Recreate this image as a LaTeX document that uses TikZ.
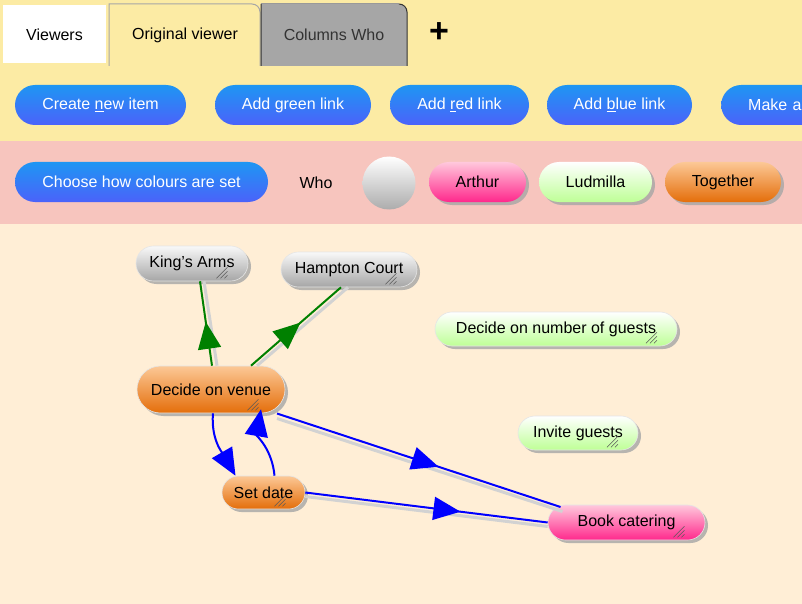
\documentclass[tikz,border=0pt]{standalone}
\usepackage{fontspec}
\setmainfont{Liberation Sans}
\usetikzlibrary{shapes.misc,shadows,decorations.markings,arrows.meta}
\definecolor{ybg}{HTML}{FCEBA4}
\definecolor{pbg}{HTML}{F7C5BE}
\definecolor{cbg}{HTML}{FFEED6}
\definecolor{lnk}{HTML}{0000FF}
\definecolor{grn}{HTML}{008000}
\tikzset{
 x=1pt,y=-1pt,
 btn/.style={rounded rectangle,minimum height=40pt,inner xsep=0pt,top color={rgb,255:red,30;green,150;blue,243},bottom color={rgb,255:red,75;green,98;blue,250},draw=none,text=white,font=\fontsize{16}{19}\selectfont},
 item/.style={rounded rectangle,draw=white!80!gray,line width=0.6pt,font=\fontsize{16}{19}\selectfont,inner xsep=0pt,drop shadow={shadow xshift=3pt,shadow yshift=-3pt,fill=gray!70,opacity=0.8}},
 gry/.style={item,top color=white!95!gray,bottom color=gray!70},
 org/.style={item,top color={rgb,255:red,252;green,200;blue,150},bottom color={rgb,255:red,228;green,110;blue,10}},
 lgr/.style={item,top color=white,bottom color={rgb,255:red,190;green,255;blue,150}},
 pnk/.style={item,top color={rgb,255:red,255;green,200;blue,220},bottom color={rgb,255:red,255;green,40;blue,140}},
 shd/.style={draw=gray!35,line width=3pt},
 midarr/.style={decoration={markings,mark=at position #1 with {\arrow{Triangle[length=27pt,width=23pt]}}},postaction={decorate}},
 bl/.style={draw=lnk,line width=2pt},
 gl/.style={draw=grn,line width=2pt},
}
\newcommand{\hatchmark}[1]{\foreach \d in {6,10,14}{\draw[gray!70!black,line width=0.6pt] ([xshift=-\d pt,yshift=3pt]#1.south east) -- ([xshift=-3pt,yshift=\d pt]#1.south east);}}
\begin{document}
\begin{tikzpicture}
\useasboundingbox (0,0) rectangle (802,604);
\fill[ybg] (0,0) rectangle (802,141);
\fill[pbg] (0,141) rectangle (802,224);
\fill[cbg] (0,224) rectangle (802,604);
% tabs
\fill[white] (3,5) rectangle (106,63);
\node[font=\fontsize{16}{19}\selectfont] (tv) at (54.5,35) {Viewers};
\draw[gray!70,line width=1pt,fill=ybg] (109,66) -- (109,4) -- (252,4) to[out=0,in=90] (260,12) -- (260,66);
\node[font=\fontsize{16}{19}\selectfont] (to) at (185,35) {Original viewer};
\fill[gray!70] (261,66) -- (261,4) -- (399,4) to[out=0,in=90] (407,12) -- (407,66) -- cycle;
\draw[gray!40!black,line width=1pt] (261,66) -- (261,4) (399,4) to[out=0,in=90] (407,12) -- (407,66);
\draw[gray!80,line width=1pt] (261,4) -- (399,4);
\node[font=\fontsize{16}{19}\selectfont,text=black!80] (tc) at (334,35) {Columns Who};
\node[font=\fontsize{34}{34}\selectfont\bfseries] (tp) at (439,33) {+};
% buttons
\node[btn,minimum width=171pt] (b1) at (100.5,105) {Create \underline{n}ew item};
\node[btn,minimum width=156pt] (b2) at (293,105) {Add green link};
\node[btn,minimum width=139pt] (b3) at (459.5,105) {Add \underline{r}ed link};
\node[btn,minimum width=145pt] (b4) at (619.5,105) {Add \underline{b}lue link};
\begin{scope}
\clip (0,0) rectangle (802,604);
\node[btn,minimum width=140pt,anchor=west,text width=120pt,align=left] (b5) at (721,105) {\hspace*{17pt}Make a link};
\end{scope}
\node[btn,minimum width=253pt] (b6) at (141.5,182) {Choose how colours are set};
\node[font=\fontsize{16}{19}\selectfont] (who) at (316,183) {Who};
\shade[top color=white,bottom color=gray!65] (389,183) circle (26.5);
\coordinate (wc) at (389,183);
\node[pnk,draw=none,drop shadow={opacity=0},minimum width=97pt,minimum height=40pt] (pa) at (477.5,182) {Arthur};
\node[lgr,draw=none,drop shadow={opacity=0},minimum width=113pt,minimum height=40pt] (pl) at (595.5,182) {Ludmilla};
\node[org,draw=none,drop shadow={opacity=0},minimum width=116pt,minimum height=40pt] (pt) at (723,182) {Together};
% item nodes
\node[gry,minimum width=112pt,minimum height=35pt] (ka) at (192,263.5) {King's Arms};
\node[gry,minimum width=136pt,minimum height=35pt] (hc) at (349,269.5) {Hampton Court};
\node[lgr,minimum width=242pt,minimum height=34pt] (dg) at (556,329) {Decide on number of guests};
\node[org,minimum width=148pt,minimum height=47pt] (dv) at (211,389.5) {Decide on venue};
\node[lgr,minimum width=120pt,minimum height=34pt] (ig) at (578,433) {Invite guests};
\node[org,minimum width=83pt,minimum height=33pt] (sd) at (263.5,492.5) {Set date};
\node[pnk,minimum width=157pt,minimum height=35pt] (bc) at (626.5,522.5) {Book catering};
\foreach \n in {ka,hc,dg,dv,ig,sd,bc}{\hatchmark{\n}}
% link shadows
\begin{scope}[shd]
\draw ([xshift=6pt]dv.north) -- ([xshift=12pt]ka.south);
\draw ([xshift=46pt]dv.north) -- ([xshift=-1pt]hc.south);
\draw ([xshift=66pt,yshift=-29pt]dv.center) -- ([xshift=-64pt,yshift=11pt]bc.center);
\draw ([yshift=-4pt]sd.east) -- ([yshift=-4pt]bc.west);
\end{scope}
% green links
\draw[gl,midarr=0.52] ([xshift=1pt]dv.north) -- ([xshift=8pt]ka.south);
\draw[gl,midarr=0.55] ([xshift=40pt]dv.north) -- ([xshift=-8pt]hc.south);
% blue links
\draw[bl,midarr=0.57] ([xshift=66pt,yshift=-24pt]dv.center) -- ([xshift=-66pt,yshift=15.5pt]bc.center);
\draw[bl,midarr=0.64] (sd.east) -- (bc.west);
\draw[bl,-{Triangle[length=27pt,width=23pt]}] ([xshift=2pt]dv.south) to[out=-95,in=120] ([xshift=-28pt]sd.north);
\draw[bl,-{Triangle[length=27pt,width=23pt]}] ([xshift=11pt]sd.north) to[out=95,in=-100] ([xshift=50pt,yshift=4pt]dv.south);
\end{tikzpicture}
\end{document}
